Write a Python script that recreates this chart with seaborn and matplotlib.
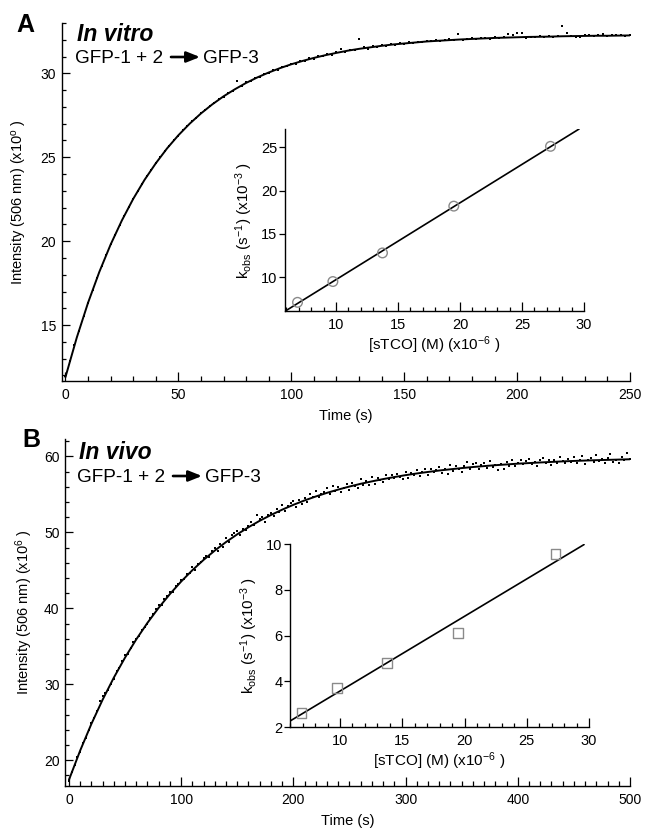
import numpy as np
import matplotlib
matplotlib.use("Agg")
import matplotlib.pyplot as plt
from matplotlib.ticker import MultipleLocator, FixedLocator
import seaborn as sns

# ---- panel A: in vitro trace ----
time_a = np.arange(0, 252, 2)
intensity_a = [
    11.95, 12.85, 13.82, 14.66, 15.55, 16.30, 17.12, 17.80, 18.55, 19.15,
    19.83, 20.38, 20.99, 21.48, 22.06, 22.50, 23.01, 23.41, 23.88, 24.24,
    24.66, 24.99, 25.39, 25.67, 26.03, 26.29, 26.62, 26.85, 27.16, 27.35,
    27.63, 27.80, 28.08, 28.22, 28.47, 28.60, 28.83, 28.94, 29.55, 29.25,
    29.46, 29.53, 29.72, 29.78, 29.98, 30.02, 30.19, 30.22, 30.40, 30.42,
    30.58, 30.57, 30.74, 30.75, 30.90, 30.88, 31.04, 31.02, 31.15, 31.12,
    31.25, 31.45, 31.30, 31.40, 31.38, 32.04, 31.55, 31.48, 31.60, 31.58,
    31.67, 31.62, 31.74, 31.70, 31.80, 31.76, 31.84, 31.82, 31.88, 31.86,
    31.93, 31.90, 31.97, 31.94, 31.99, 32.03, 31.98, 32.36, 32.00, 32.06,
    32.08, 32.07, 32.10, 32.12, 32.07, 32.15, 32.10, 32.14, 32.35, 32.30,
    32.42, 32.40, 32.12, 32.14, 32.16, 32.20, 32.17, 32.21, 32.15, 32.22,
    32.83, 32.38, 32.25, 32.18, 32.16, 32.28, 32.30, 32.20, 32.27, 32.35,
    32.22, 32.30, 32.27, 32.29, 32.24, 32.28,
]
fit_time_a = np.arange(0, 251, 5)
fit_a = [
    11.90, 14.25, 16.33, 18.17, 19.80, 21.24, 22.52, 23.65, 24.64, 25.53,
    26.31, 27.00, 27.61, 28.15, 28.63, 29.05, 29.43, 29.76, 30.05, 30.31,
    30.54, 30.74, 30.92, 31.08, 31.22, 31.35, 31.46, 31.55, 31.64, 31.72,
    31.78, 31.84, 31.90, 31.94, 31.98, 32.02, 32.05, 32.08, 32.11, 32.13,
    32.15, 32.17, 32.18, 32.19, 32.21, 32.22, 32.23, 32.24, 32.24, 32.25,
    32.26,
]

# ---- panel B: in vivo trace ----
time_b = np.arange(0, 501, 2.5)
intensity_b = [
    17.3, 18.5, 19.3, 20.4, 21.1, 22.3, 22.9, 24.0, 24.9, 25.5, 26.5, 27.8, 28.4, 28.9, 29.3, 30.0, 30.7, 31.7, 32.1, 33.1,
    33.8, 34.0, 34.8, 35.5, 36.0, 36.3, 37.1, 37.6, 38.0, 38.7, 39.3, 39.9, 40.5, 40.4, 41.2, 41.6, 42.2, 42.1, 43.0, 43.2,
    43.7, 43.8, 44.5, 44.6, 45.4, 45.1, 45.9, 46.1, 46.6, 46.9, 46.8, 47.6, 47.9, 47.6, 48.5, 48.1, 49.3, 48.8, 49.6, 49.9,
    50.2, 49.6, 50.5, 50.3, 50.9, 51.4, 51.0, 52.3, 51.7, 52.0, 51.4, 52.3, 52.6, 52.1, 53.1, 52.7, 53.6, 52.8, 53.5, 53.9,
    54.1, 53.4, 54.3, 53.8, 54.5, 54.0, 55.1, 54.7, 55.4, 54.6, 55.0, 55.3, 55.8, 55.1, 56.1, 55.5, 56.0, 55.3, 55.9, 56.4,
    55.6, 56.5, 56.1, 55.9, 57.0, 56.2, 56.8, 56.3, 57.3, 56.4, 57.1, 56.9, 56.6, 57.5, 57.0, 57.6, 57.1, 57.7, 57.3, 57.0,
    58.0, 57.2, 57.8, 57.5, 58.2, 57.4, 57.9, 58.3, 57.5, 58.4, 57.9, 58.2, 58.6, 57.8, 58.4, 57.7, 58.9, 58.1, 58.7, 58.4,
    58.0, 58.8, 59.3, 58.4, 59.0, 59.2, 58.3, 58.9, 59.1, 58.5, 59.4, 58.6, 58.9, 58.2, 59.0, 58.4, 59.3, 58.7, 59.5, 58.8,
    59.2, 59.6, 59.0, 59.4, 59.7, 59.0, 59.3, 58.8, 59.5, 59.8, 59.1, 59.6, 58.9, 59.6, 59.2, 59.9, 59.4, 59.1, 59.7, 59.3,
    59.9, 59.2, 59.6, 60.1, 59.0, 59.5, 59.8, 59.3, 60.2, 59.4, 59.7, 59.1, 59.8, 60.3, 59.3, 59.6, 59.2, 59.9, 59.5, 60.4,
    59.7,
]
fit_time_b = np.arange(0, 501, 10)
fit_b = [
    17.40, 21.26, 24.77, 27.96, 30.87, 33.51, 35.91, 38.09, 40.08, 41.88,
    43.53, 45.02, 46.38, 47.61, 48.73, 49.75, 50.68, 51.53, 52.29, 52.99,
    53.63, 54.21, 54.73, 55.21, 55.64, 56.04, 56.40, 56.72, 57.02, 57.29,
    57.54, 57.76, 57.96, 58.15, 58.31, 58.47, 58.61, 58.73, 58.85, 58.95,
    59.05, 59.13, 59.21, 59.28, 59.35, 59.41, 59.46, 59.51, 59.55, 59.59,
    59.63,
]

# ---- insets: kobs vs [sTCO] ----
stco = [6.9, 9.75, 13.75, 19.5, 27.3]
kobs_a = [7.1, 9.5, 12.8, 18.2, 25.1]
kobs_b = [2.6, 3.7, 4.8, 6.1, 9.55]

sns.set_style("ticks")
plt.rcParams["font.family"] = ["Liberation Sans", "DejaVu Sans"]
plt.rcParams["mathtext.fontset"] = "custom"
plt.rcParams["mathtext.rm"] = "Liberation Sans"
plt.rcParams["mathtext.it"] = "Liberation Sans:italic"
plt.rcParams["axes.linewidth"] = 1.0
for key in ["text.color", "axes.labelcolor", "axes.edgecolor", "xtick.color", "ytick.color"]:
    plt.rcParams[key] = "black"

W, H = 645, 838


def box(left, top, right, bottom):
    return [left / W, 1 - bottom / H, (right - left) / W, (bottom - top) / H]


def fx(px):
    return px / W


def fy(py):
    return 1 - py / H


fig = plt.figure(figsize=(6.45, 8.38), dpi=100)
fig.patch.set_facecolor("white")

ax_a = fig.add_axes(box(61.5, 23, 630, 381))
ax_b = fig.add_axes(box(65, 439, 630, 786))
in_a = fig.add_axes(box(285, 129, 584, 311))
in_b = fig.add_axes(box(290, 544, 589, 727))


def style_main(ax):
    sns.despine(ax=ax)
    ax.set_facecolor("none")
    ax.tick_params(which="both", direction="in", colors="black", width=0.9, labelsize=10)
    ax.tick_params(axis="x", which="major", length=6.5, pad=5)
    ax.tick_params(axis="x", which="minor", length=3.4)
    ax.tick_params(axis="y", which="major", length=5.5, pad=4)
    ax.tick_params(axis="y", which="minor", length=3.0)


def style_inset(ax):
    sns.despine(ax=ax)
    ax.set_facecolor("none")
    ax.tick_params(axis="x", which="both", direction="in", width=0.9, labelsize=10.5, pad=5)
    ax.tick_params(axis="x", which="major", length=6.5)
    ax.tick_params(axis="x", which="minor", length=3.2)
    ax.tick_params(axis="y", direction="out", length=4, width=0.9, labelsize=10.5, pad=1.5)


# panel A main
sns.scatterplot(x=time_a, y=intensity_a, ax=ax_a, marker="s", s=3.5, color="black",
                linewidth=0, zorder=3)
sns.lineplot(x=fit_time_a, y=fit_a, ax=ax_a, color="black", lw=1.4, estimator=None, zorder=2)
ax_a.set_xlim(-1.75, 250)
ax_a.set_ylim(11.67, 33)
ax_a.xaxis.set_major_locator(MultipleLocator(50))
ax_a.xaxis.set_minor_locator(MultipleLocator(10))
ax_a.yaxis.set_major_locator(FixedLocator([15, 20, 25, 30]))
ax_a.yaxis.set_minor_locator(MultipleLocator(1))
style_main(ax_a)
ax_a.set_xlabel("Time (s)", fontsize=10.5, labelpad=5)
ax_a.set_ylabel("Intensity (506 nm) (x10$^{\\mathrm{o}}$ )", fontsize=10.5, labelpad=8)

# panel B main
sns.scatterplot(x=time_b, y=intensity_b, ax=ax_b, marker="s", s=3.5, color="black",
                linewidth=0, zorder=3)
sns.lineplot(x=fit_time_b, y=fit_b, ax=ax_b, color="black", lw=1.4, estimator=None, zorder=2)
ax_b.set_xlim(-3.5, 500)
ax_b.set_ylim(16.6, 62.3)
ax_b.xaxis.set_major_locator(MultipleLocator(100))
ax_b.xaxis.set_minor_locator(MultipleLocator(10))
ax_b.yaxis.set_major_locator(FixedLocator([20, 30, 40, 50, 60]))
ax_b.yaxis.set_minor_locator(MultipleLocator(2))
style_main(ax_b)
ax_b.set_xlabel("Time (s)", fontsize=10.5, labelpad=5)
ax_b.set_ylabel("Intensity (506 nm) (x10$^{\\mathrm{6}}$ )", fontsize=10.5, labelpad=6)

# insets
for ax, kobs, ylim, yticks, marker, left in [
    (in_a, kobs_a, (6.1, 27.1), [10, 15, 20, 25], "o", 5.89),
    (in_b, kobs_b, (2, 10), [2, 4, 6, 8, 10], "s", 5.98),
]:
    ax.set_xlim(left, 29.6)
    ax.set_ylim(*ylim)
    sns.regplot(x=stco, y=kobs, ax=ax, scatter=False, ci=None, truncate=False,
                color="black", line_kws={"lw": 1.2})
    sns.scatterplot(x=stco, y=kobs, ax=ax, marker=marker, s=48, facecolor="none",
                    edgecolor="#8a8a8a", linewidth=1.0, zorder=4)
    ax.set_xlim(left, 30)
    ax.set_ylim(*ylim)
    ax.xaxis.set_major_locator(FixedLocator([10, 15, 20, 25, 30]))
    ax.xaxis.set_minor_locator(MultipleLocator(1))
    ax.yaxis.set_major_locator(FixedLocator(yticks))
    style_inset(ax)
    ax.set_xlabel("[sTCO] (M) (x10$^{\\mathrm{-6}}$ )", fontsize=11, labelpad=2)
    ax.set_ylabel("k$_{\\mathrm{obs}}$ (s$^{\\mathrm{-1}}$) (x10$^{\\mathrm{-3}}$ )", fontsize=11,
                  labelpad=4)

# panel letters and reaction labels
for letter, ly, iy, gy, title in [("A", 32, 41, 63, "In vitro"), ("B", 447, 459, 482, "In vivo")]:
    fig.text(fx(16 if letter == "A" else 22), fy(ly), letter, fontsize=18,
             fontweight="bold", va="baseline")
    fig.text(fx(77 if letter == "A" else 79), fy(iy), title, fontsize=16.5,
             fontweight="bold", fontstyle="italic", va="baseline")
    gx = 75 if letter == "A" else 77
    fig.text(fx(gx), fy(gy), "GFP-1 + 2", fontsize=13.7, va="baseline")
    fig.text(fx(gx + 128), fy(gy), "GFP-3", fontsize=13.7, va="baseline")
    ax_a.annotate("", xy=(fx(gx + 125), fy(gy - 6)), xytext=(fx(gx + 96), fy(gy - 6)),
                  xycoords="figure fraction", textcoords="figure fraction",
                  arrowprops=dict(arrowstyle="-|>,head_length=0.8,head_width=0.32",
                                  color="black", lw=1.9, shrinkA=0, shrinkB=0))

fig.savefig("out.png", dpi=100, facecolor="white")
